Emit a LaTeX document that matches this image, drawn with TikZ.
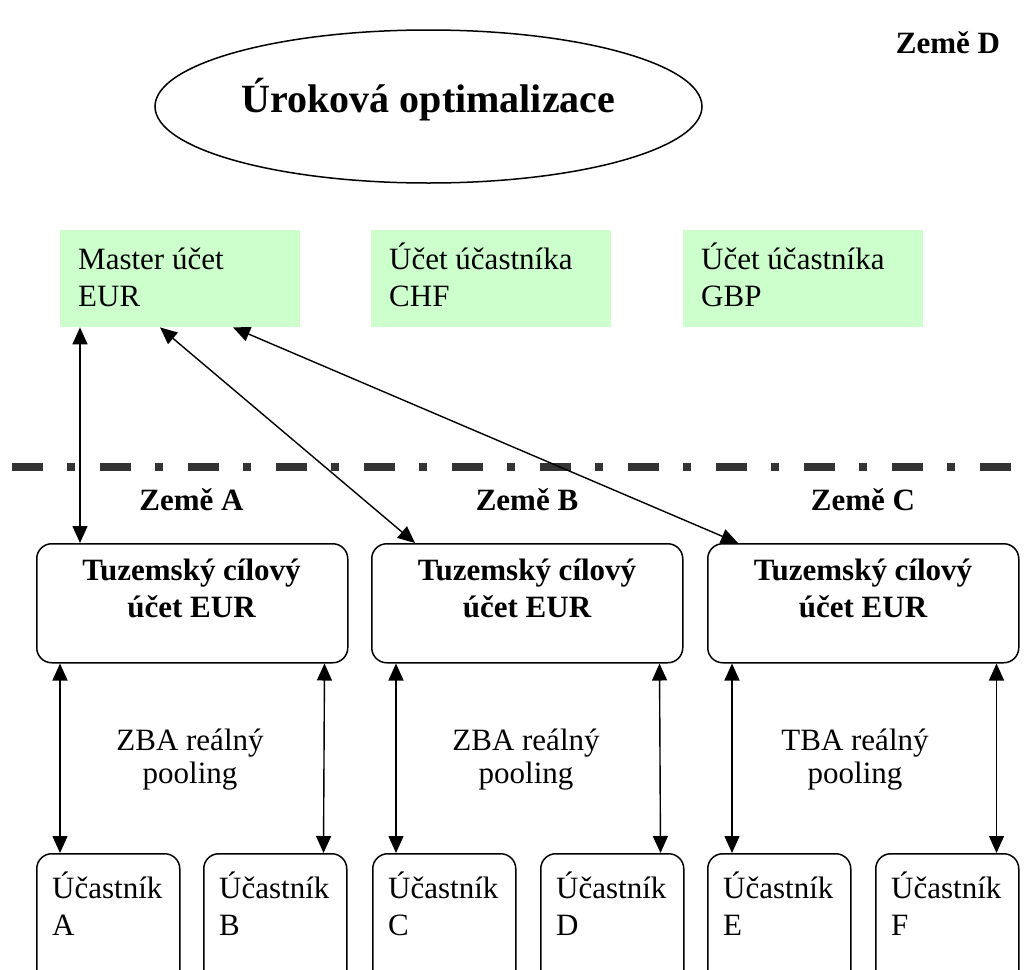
\documentclass[tikz,border=0pt]{standalone}
\usepackage{fontspec}
\setmainfont{Liberation Serif}
\usetikzlibrary{shapes.geometric,arrows.meta,calc}
\definecolor{mintgreen}{RGB}{204,255,204}
\definecolor{sepgray}{RGB}{51,51,51}
\begin{document}
\begin{tikzpicture}[x=1pt,y=-1pt,
  txt/.style={font=\fontsize{31}{37}\selectfont, inner sep=0pt, align=left, anchor=base west},
  btxt/.style={font=\fontsize{31}{37}\selectfont\bfseries, inner sep=0pt, align=center, anchor=base},
  pooltxt/.style={font=\fontsize{31}{33}\selectfont, inner sep=0pt, align=center, anchor=base},
  greenbox/.style={fill=mintgreen, minimum width=240pt, minimum height=97pt, inner sep=0pt, anchor=north west},
  bigbox/.style={draw, line width=1.5pt, rounded corners=15pt, minimum width=311pt, minimum height=119pt, inner sep=0pt, anchor=north west},
  smallbox/.style={draw, line width=1.5pt, rounded corners=15pt, minimum width=143pt, minimum height=160pt, inner sep=0pt, anchor=north west},
  dar/.style={{Triangle[length=17pt,width=15pt]}-{Triangle[length=17pt,width=15pt]}, line width=1.4pt},
  sep/.style={line width=8pt, draw=sepgray, dash pattern=on 31pt off 24pt on 8pt off 25pt}
]
\useasboundingbox (0,0) rectangle (1032,969);
\clip (0,0) rectangle (1032,969);

% top ellipse
\node[draw, ellipse, line width=1.5pt, minimum width=547pt, minimum height=153pt, inner sep=0pt] (ell) at (428.5,106.5) {};
\node[font=\fontsize{40}{46}\selectfont\bfseries, inner sep=0pt, anchor=base] (title) at (428.5,112) {Úroková optimalizace};
\node[btxt] (zd) at (948,53) {Země D};

% green accounts
\node[greenbox] (ma) at (60,230) {};
\node[greenbox] (mc) at (371,230) {};
\node[greenbox] (mg) at (683,230) {};
\node[txt] (mat) at (78,306) {Master účet\\EUR};
\node[txt] (mct) at (389,306) {Účet účastníka\\CHF};
\node[txt] (mgt) at (701,306) {Účet účastníka\\GBP};

% separator
\coordinate (s1) at (12,467);
\coordinate (s2) at (1032,467);
\draw[sep] (s1) -- (s2);

% country labels
\node[btxt] (za) at (191.5,510) {Země A};
\node[btxt] (zb) at (527,510) {Země B};
\node[btxt] (zc) at (863,510) {Země C};

% target accounts
\node[bigbox] (ta) at (36,543) {};
\node[bigbox] (tb) at (371,543) {};
\node[bigbox] (tc) at (707,543) {};
\node[btxt] (tat) at (191.5,617) {Tuzemský cílový\\účet EUR};
\node[btxt] (tbt) at (527,617) {Tuzemský cílový\\účet EUR};
\node[btxt] (tct) at (863,617) {Tuzemský cílový\\účet EUR};

% pooling labels
\node[pooltxt] (pa) at (190,783) {ZBA reálný\\pooling};
\node[pooltxt] (pb) at (526,783) {ZBA reálný\\pooling};
\node[pooltxt] (pc) at (855,783) {TBA reálný\\pooling};

% participants
\node[smallbox] (ua) at (36,853) {};
\node[smallbox] (ub) at (203,853) {};
\node[smallbox] (uc) at (372,853) {};
\node[smallbox] (ud) at (540,853) {};
\node[smallbox] (ue) at (707,853) {};
\node[smallbox] (uf) at (875,853) {};
\node[txt] (uat) at (52,935) {Účastník\\A};
\node[txt] (ubt) at (219,935) {Účastník\\B};
\node[txt] (uct) at (388,935) {Účastník\\C};
\node[txt] (udt) at (556,935) {Účastník\\D};
\node[txt] (uet) at (723,935) {Účastník\\E};
\node[txt] (uft) at (891,935) {Účastník\\F};

% master arrows
\draw[dar] ([xshift=20pt]ma.south west) -- ([xshift=44pt]ta.north west);
\draw[dar] ([xshift=100pt]ma.south west) -- ([xshift=44pt]tb.north west);
\draw[dar] ([xshift=173pt]ma.south west) -- ([xshift=31pt]tc.north west);

% pooling arrows
\draw[dar] ([xshift=24pt]ta.south west) -- ([xshift=24pt]ua.north west);
\draw[dar] ([xshift=-24pt]ta.south east) -- ([xshift=-24pt]ub.north east);
\draw[dar] ([xshift=25pt]tb.south west) -- ([xshift=24pt]uc.north west);
\draw[dar] ([xshift=-24pt]tb.south east) -- ([xshift=-24pt]ud.north east);
\draw[dar] ([xshift=25pt]tc.south west) -- ([xshift=25pt]ue.north west);
\draw[dar] ([xshift=-23pt]tc.south east) -- ([xshift=-23pt]uf.north east);
\end{tikzpicture}
\end{document}
